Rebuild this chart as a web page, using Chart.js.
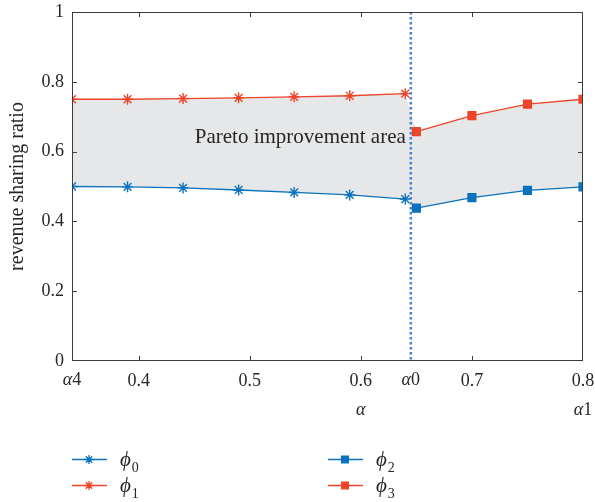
<!DOCTYPE html>
<html>
<head>
<meta charset="utf-8">
<script src="https://cdn.jsdelivr.net/npm/chart.js@4.4.0/dist/chart.umd.min.js"></script>
<style>
  html, body { margin: 0; padding: 0; background: #fff; }
</style>
</head>
<body>
<canvas id="myChart" width="595" height="502"></canvas>
<script>
// values
const alphaLeft = [0.34, 0.39, 0.44, 0.49, 0.54, 0.59, 0.64];
const alphaRight = [0.65, 0.70, 0.75, 0.80];
const phi0 = [0.500, 0.499, 0.496, 0.490, 0.483, 0.476, 0.464];
const phi1 = [0.750, 0.750, 0.752, 0.754, 0.757, 0.760, 0.766];
const phi2 = [0.438, 0.468, 0.489, 0.499];
const phi3 = [0.657, 0.703, 0.736, 0.750];
const xTickValues = [0.34, 0.4, 0.5, 0.6, 0.645, 0.7, 0.8];
const xTickLabels = ["α4", "0.4", "0.5", "0.6", "α0", "0.7", "0.8"];
const yTickValues = [0, 0.2, 0.4, 0.6, 0.8, 1];
const alpha0 = 0.645;

const BLUE = "#0b72bd";
const RED = "#ef4429";
const TEXT = "#262626";
const FONT = "'Liberation Serif', 'Times New Roman', serif";

const toPoints = (xs, ys) => xs.map((x, i) => ({ x: x, y: ys[i] }));

const framePlugin = {
  id: "frame",
  afterDatasetsDraw(chart) {
    const ctx = chart.ctx;
    const a = chart.chartArea;
    const x = chart.scales.x;
    const y = chart.scales.y;
    ctx.save();

    // annotation
    ctx.fillStyle = TEXT;
    ctx.font = "21px " + FONT;
    ctx.textAlign = "center";
    ctx.textBaseline = "alphabetic";
    ctx.fillText("Pareto improvement area", x.getPixelForValue(0.5455), y.getPixelForValue(0.624));

    // dotted line at alpha0
    const xd = x.getPixelForValue(alpha0);
    ctx.strokeStyle = "#4a80d0";
    ctx.lineWidth = 2.5;
    ctx.setLineDash([2.5, 2.5]);
    ctx.beginPath();
    ctx.moveTo(xd, a.top);
    ctx.lineTo(xd, a.bottom);
    ctx.stroke();
    ctx.setLineDash([]);

    // box and inward ticks
    ctx.strokeStyle = "#3c3c3c";
    ctx.lineWidth = 1;
    ctx.strokeRect(a.left + 0.5, a.top + 0.5, a.right - a.left - 1, a.bottom - a.top - 1);
    ctx.beginPath();
    [0.4, 0.5, 0.6, 0.7].forEach((v) => {
      const px = Math.round(x.getPixelForValue(v)) + 0.5;
      ctx.moveTo(px, a.bottom);
      ctx.lineTo(px, a.bottom - 5);
      ctx.moveTo(px, a.top);
      ctx.lineTo(px, a.top + 5);
    });
    [0.2, 0.4, 0.6, 0.8].forEach((v) => {
      const py = Math.round(y.getPixelForValue(v)) + 0.5;
      ctx.moveTo(a.left, py);
      ctx.lineTo(a.left + 5, py);
      ctx.moveTo(a.right, py);
      ctx.lineTo(a.right - 5, py);
    });
    ctx.stroke();

    // alpha labels: italic alpha, upright index
    const drawAlpha = (label, px, py) => {
      const rest = label.slice(1);
      ctx.font = "italic 18px " + FONT;
      const w1 = ctx.measureText("α").width;
      ctx.font = "18px " + FONT;
      const w2 = ctx.measureText(rest).width;
      let sx = px - (w1 + w2) / 2;
      ctx.textAlign = "left";
      ctx.textBaseline = "middle";
      ctx.font = "italic 18px " + FONT;
      ctx.fillText("α", sx, py);
      ctx.font = "18px " + FONT;
      ctx.fillText(rest, sx + w1, py);
    };
    ctx.fillStyle = TEXT;
    xTickLabels.forEach((lab, i) => {
      if (lab.startsWith("α")) drawAlpha(lab, x.getPixelForValue(xTickValues[i]), a.bottom + 19);
    });
    drawAlpha("α", x.getPixelForValue(0.6), a.bottom + 49);
    drawAlpha("α1", x.getPixelForValue(0.8), a.bottom + 49);

    // legend
    const items = [
      { sub: "0", color: BLUE, style: "star", col: 0, row: 0 },
      { sub: "1", color: RED, style: "star", col: 0, row: 1 },
      { sub: "2", color: BLUE, style: "rect", col: 1, row: 0 },
      { sub: "3", color: RED, style: "rect", col: 1, row: 1 },
    ];
    items.forEach((it) => {
      const lx = it.col === 0 ? 72 : 328;
      const ly = it.row === 0 ? 459.5 : 485.5;
      ctx.strokeStyle = it.color;
      ctx.fillStyle = it.color;
      ctx.lineWidth = 1.3;
      ctx.beginPath();
      ctx.moveTo(lx, ly);
      ctx.lineTo(lx + 35, ly);
      ctx.stroke();
      Chart.helpers.drawPoint(ctx, {
        pointStyle: it.style,
        radius: it.style === "rect" ? 4.8 : 4.5,
        rotation: 0,
        borderWidth: 1.3,
      }, lx + 17, ly);
      ctx.fillStyle = TEXT;
      ctx.textAlign = "left";
      ctx.textBaseline = "alphabetic";
      ctx.font = "italic 21px " + FONT;
      ctx.fillText("ϕ", lx + 48, ly + 6);
      const w = ctx.measureText("ϕ").width;
      ctx.font = "14px " + FONT;
      ctx.fillText(it.sub, lx + 49 + w, ly + 12);
    });

    ctx.restore();
  },
};

const lineSet = (label, xs, ys, color, style) => ({
  label: label,
  data: toPoints(xs, ys),
  borderColor: color,
  backgroundColor: color,
  borderWidth: 1.3,
  pointStyle: style,
  pointRadius: style === "rect" ? 5.5 : 5.5,
  pointBorderWidth: 1.4,
  pointBorderColor: color,
  pointBackgroundColor: color,
  fill: false,
  order: 0,
});

const myChart = document.getElementById("myChart");
const newChart = new Chart(myChart, {
  type: "line",
  data: {
    datasets: [
      {
        label: "area low",
        data: toPoints(alphaLeft.concat(alphaRight), phi0.concat(phi2)),
        borderWidth: 0,
        borderColor: "rgba(0,0,0,0)",
        pointRadius: 0,
        fill: false,
        order: 10,
      },
      {
        label: "area high",
        data: toPoints(alphaLeft.concat(alphaRight), phi1.concat(phi3)),
        borderWidth: 0,
        borderColor: "rgba(0,0,0,0)",
        backgroundColor: "#e6e7e8",
        pointRadius: 0,
        fill: 0,
        order: 10,
      },
      lineSet("φ0", alphaLeft, phi0, BLUE, "star"),
      lineSet("φ1", alphaLeft, phi1, RED, "star"),
      lineSet("φ2", alphaRight, phi2, BLUE, "rect"),
      lineSet("φ3", alphaRight, phi3, RED, "rect"),
    ],
  },
  options: {
    responsive: false,
    animation: false,
    layout: { padding: { left: 0, right: 12, top: 12, bottom: 0 } },
    plugins: {
      legend: { display: false },
      tooltip: { enabled: false },
    },
    scales: {
      x: {
        type: "linear",
        min: 0.34,
        max: 0.8,
        grid: { display: false, drawTicks: false },
        border: { display: false },
        afterBuildTicks: (s) => {
          s.ticks = xTickValues.map((v) => ({ value: v }));
        },
        afterFit: (s) => {
          s.height = 141;
          s.paddingLeft = 0;
          s.paddingRight = 0;
        },
        ticks: {
          autoSkip: false,
          maxRotation: 0,
          padding: 9,
          color: TEXT,
          font: { family: FONT, size: 18 },
          callback: (v, i) => (xTickLabels[i].startsWith("α") ? "" : xTickLabels[i]),
        },
      },
      y: {
        min: 0,
        max: 1,
        grid: { display: false, drawTicks: false },
        border: { display: false },
        afterBuildTicks: (s) => {
          s.ticks = yTickValues.map((v) => ({ value: v }));
        },
        afterFit: (s) => {
          s.width = 72;
          s.paddingTop = 0;
          s.paddingBottom = 0;
        },
        ticks: {
          padding: 8,
          color: TEXT,
          font: { family: FONT, size: 18 },
          callback: (v) => String(v),
        },
        title: {
          display: true,
          text: "revenue sharing ratio",
          color: TEXT,
          font: { family: FONT, size: 20 },
          padding: { top: 6, bottom: 0 },
        },
      },
    },
  },
  plugins: [framePlugin],
});
</script>
</body>
</html>
